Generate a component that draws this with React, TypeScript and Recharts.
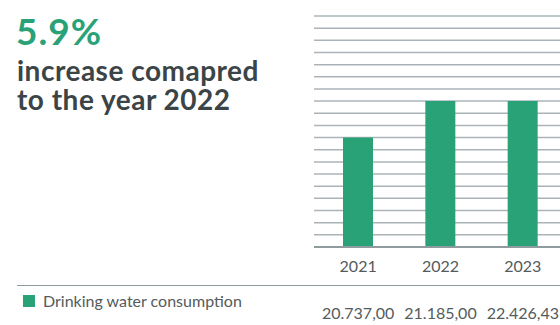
import { BarChart, Bar, XAxis, YAxis, CartesianGrid } from 'recharts';

const years = ['2021', '2022', '2023'];
const consumption = ['20.737,00', '21.185,00', '22.426,43'];
// bar heights as drawn, counted in gridline steps
const barLevels = [9, 12, 12];
const gridSteps = 19;

const GREEN = '#2aa278';
const TEXT = '#3b4446';
const LABEL = '#545b5c';

export default function App() {
  const data = years.map((year, i) => ({
    year,
    amount: consumption[i],
    level: barLevels[i],
  }));
  const ticks = Array.from({ length: gridSteps + 1 }, (_, i) => i);

  const headline = {
    position: 'absolute' as const,
    left: 17,
    color: TEXT,
    fontSize: 28,
    fontWeight: 700,
    lineHeight: '28px',
    letterSpacing: 0.5,
    whiteSpace: 'nowrap' as const,
  };

  return (
    <div
      style={{
        position: 'fixed',
        left: 0,
        top: 0,
        width: 560,
        height: 325,
        overflow: 'hidden',
        background: '#fff',
        fontFamily: 'Lato, "Open Sans", sans-serif',
      }}
    >
      <div
        style={{
          position: 'absolute',
          left: 16,
          top: 12,
          color: GREEN,
          fontSize: 37,
          fontWeight: 700,
          lineHeight: '37px',
          letterSpacing: 1,
        }}
      >
        5.9%
      </div>
      <div style={{ ...headline, top: 56 }}>increase comapred</div>
      <div style={{ ...headline, top: 84.5 }}>to the year 2022</div>

      <div style={{ position: 'absolute', left: 314, top: 0 }}>
        <BarChart
          width={253}
          height={325}
          data={data}
          margin={{ top: 16, right: 0, bottom: 0, left: 0 }}
        >
          <CartesianGrid vertical={false} stroke="#aab4b8" strokeWidth={1.5} />
          <YAxis hide domain={[0, gridSteps]} ticks={ticks} interval={0} />
          <XAxis
            dataKey="year"
            height={38}
            padding={{ left: 3, right: 3 }}
            tickLine={false}
            axisLine={{ stroke: '#909b9f', strokeWidth: 2 }}
            tickMargin={8}
            tick={{ fill: LABEL, fontSize: 16 }}
          />
          <XAxis
            xAxisId="amount"
            dataKey="amount"
            height={40}
            padding={{ left: 3, right: 3 }}
            tickLine={false}
            axisLine={false}
            tickMargin={17}
            tick={{ fill: LABEL, fontSize: 16 }}
          />
          <Bar dataKey="level" fill={GREEN} barSize={30} isAnimationActive={false} />
        </BarChart>
      </div>

      <div
        style={{
          position: 'absolute',
          left: 17,
          top: 285,
          width: 560,
          borderTop: '1.5px solid #909b9f',
        }}
      />
      <div
        style={{
          position: 'absolute',
          left: 23,
          top: 291,
          display: 'flex',
          alignItems: 'center',
          gap: 8,
          color: LABEL,
          fontSize: 16,
        }}
      >
        <div style={{ width: 12, height: 12, background: GREEN }} />
        <span>Drinking water consumption</span>
      </div>
    </div>
  );
}
